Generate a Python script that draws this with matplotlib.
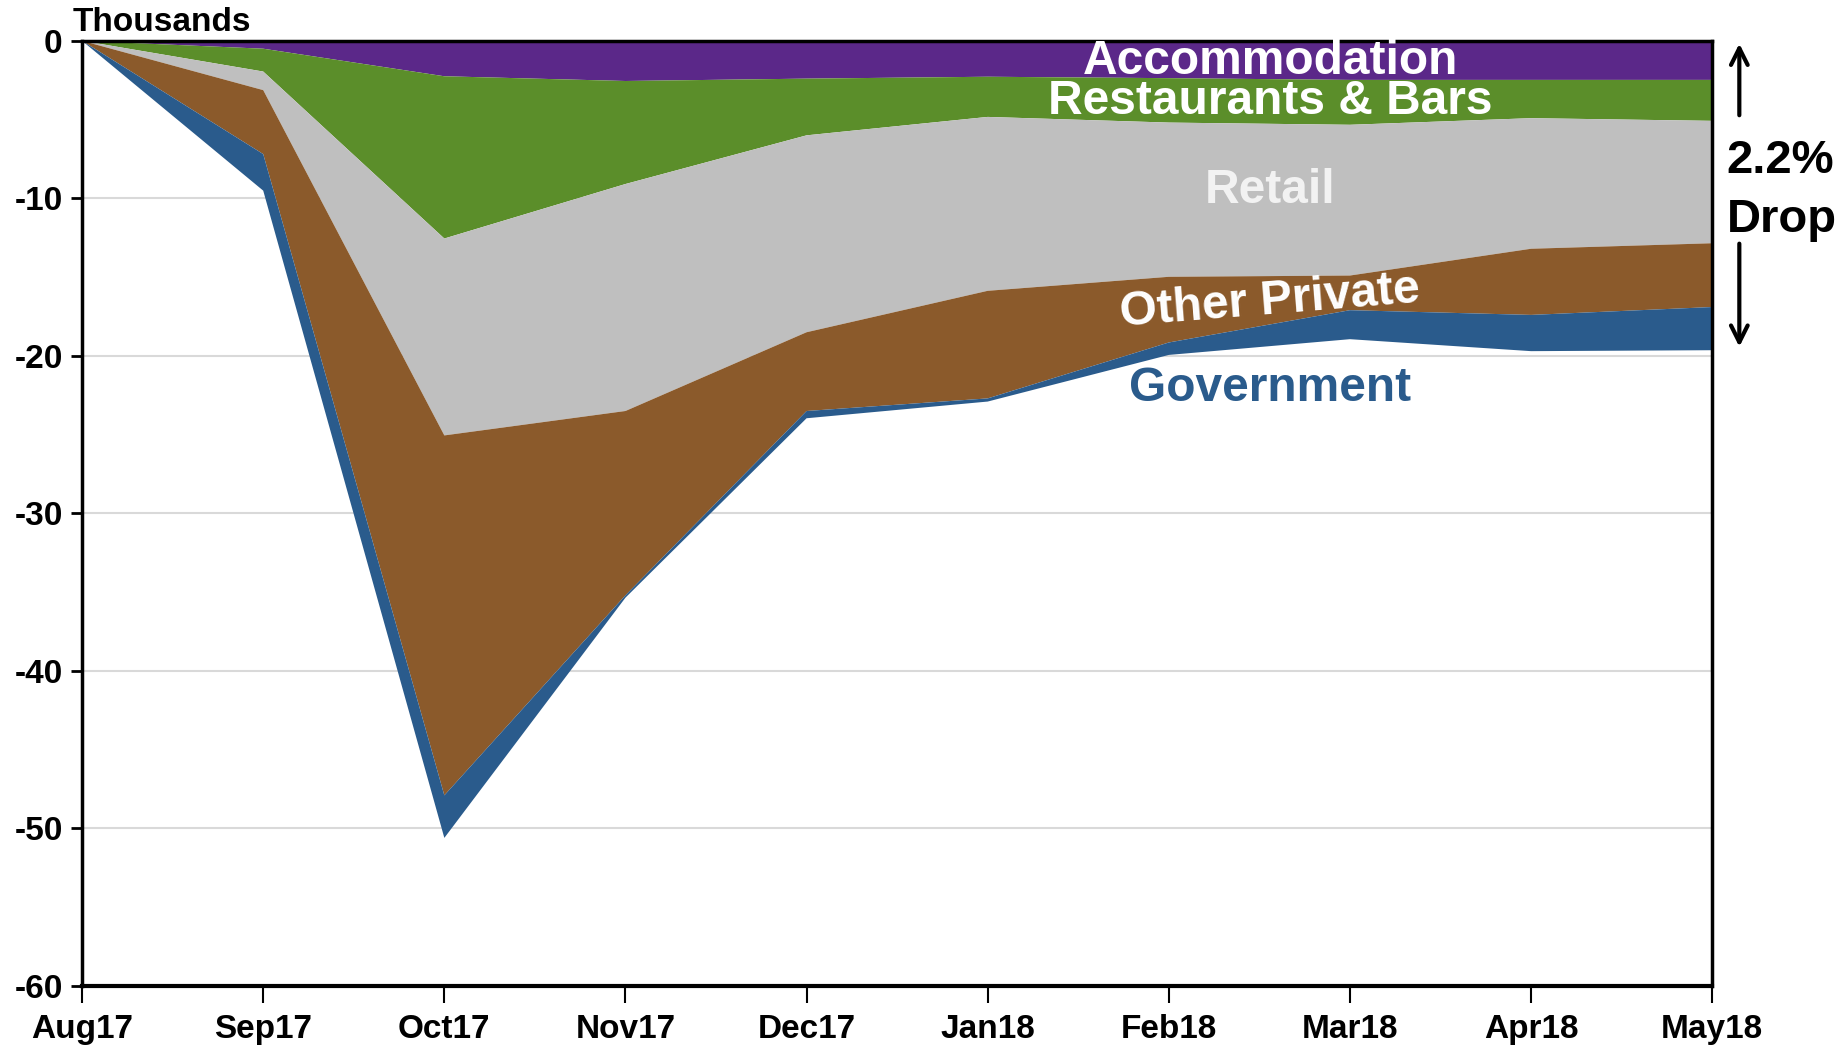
import matplotlib.pyplot as plt
import numpy as np

plt.rcParams['font.family'] = ['Liberation Sans', 'DejaVu Sans']
plt.rcParams['axes.unicode_minus'] = False

months = ['Aug17', 'Sep17', 'Oct17', 'Nov17', 'Dec17', 'Jan18', 'Feb18', 'Mar18', 'Apr18', 'May18']

# change in jobs since Aug17, thousands
accommodation = [0, -0.5, -2.25, -2.55, -2.4, -2.28, -2.37, -2.48, -2.48, -2.48]
restaurants = [0, -1.45, -10.3, -6.54, -3.6, -2.55, -2.82, -2.85, -2.43, -2.6]
retail = [0, -1.18, -12.5, -14.41, -12.5, -11.04, -9.79, -9.57, -8.29, -7.77]
other_private = [0, -4.06, -22.85, -11.7, -5.0, -6.83, -4.17, -2.2, -4.2, -4.05]
government = [0, -2.32, -2.7, -0.15, -0.46, -0.2, -0.79, -1.84, -2.3, -2.74]

colors = ['#5B2889', '#5B8E2A', '#BFBFBF', '#8B5A2B', '#2A5B8C']

fig = plt.figure(figsize=(18.45, 10.47), dpi=100)
ax = fig.add_axes([0.0445, 0.0583, 0.8835, 0.9027])

x = np.arange(len(months))
ax.stackplot(x, accommodation, restaurants, retail, other_private, government,
             colors=colors, linewidth=0, zorder=2)

ax.set_xlim(0, len(months) - 1)
ax.set_ylim(-60, 0)
ax.set_yticks(np.arange(-60, 1, 10))
ax.set_xticks(x)
ax.set_xticklabels(months)
ax.yaxis.grid(True, color='#D9D9D9', linewidth=1.5, zorder=0)
ax.set_axisbelow(True)

for s in ax.spines.values():
    s.set_color('black')
    s.set_linewidth(2.5)
    s.set_zorder(3)
ax.spines['bottom'].set_linewidth(3)
ax.tick_params(axis='y', direction='out', length=8, width=2, labelsize=24, pad=6)
ax.tick_params(axis='x', direction='out', length=12, width=1.5, labelsize=24, pad=8)
for lbl in ax.get_xticklabels() + ax.get_yticklabels():
    lbl.set_fontweight('bold')

ax.text(-0.05, 0.15, 'Thousands', fontsize=24, fontweight='bold', ha='left', va='bottom')

# series labels
lx = 6.56
fs = 34.5
ax.text(lx, -1.3, 'Accommodation', color='white', fontsize=fs, fontweight='bold',
        ha='center', va='center', zorder=4)
ax.text(lx, -3.85, 'Restaurants & Bars', color='white', fontsize=fs, fontweight='bold',
        ha='center', va='center', zorder=4)
ax.text(lx, -9.5, 'Retail', color='#F2F2F2', fontsize=fs, fontweight='bold',
        ha='center', va='center', zorder=4)
ax.text(lx, -16.55, 'Other Private', color='white', fontsize=fs, fontweight='bold',
        ha='center', va='center', rotation=4.6, zorder=4)
ax.text(lx, -22.05, 'Government', color='#2A5B8C', fontsize=fs, fontweight='bold',
        ha='center', va='center', zorder=4)

# 2.2% drop annotation
ax.annotate('', xy=(9.15, 0), xytext=(9.15, -4.9), annotation_clip=False,
            arrowprops=dict(arrowstyle='->', color='black', lw=3, mutation_scale=30))
ax.annotate('', xy=(9.15, -19.6), xytext=(9.15, -12.7), annotation_clip=False,
            arrowprops=dict(arrowstyle='->', color='black', lw=3, mutation_scale=30))
ax.text(9.08, -7.6, '2.2%', fontsize=34, fontweight='bold', ha='left', va='center', clip_on=False)
ax.text(9.08, -11.35, 'Drop', fontsize=34, fontweight='bold', ha='left', va='center', clip_on=False)

fig.savefig('out.png', dpi=100)
